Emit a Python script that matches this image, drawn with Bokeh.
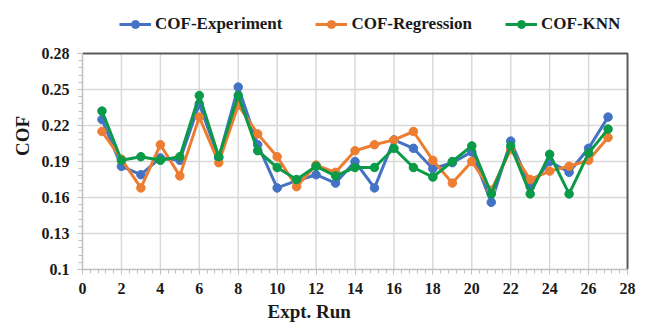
from bokeh.plotting import figure
from bokeh.models import Range1d, FixedTicker, Legend, LegendItem, Title
from bokeh.embed import file_html
from bokeh.resources import INLINE

runs = list(range(1, 28))
cof_experiment = [0.225, 0.186, 0.179, 0.193, 0.191, 0.238, 0.193, 0.252, 0.204, 0.168,
                  0.174, 0.179, 0.172, 0.190, 0.168, 0.208, 0.201, 0.184, 0.189, 0.198,
                  0.156, 0.207, 0.169, 0.190, 0.181, 0.201, 0.227]
cof_regression = [0.215, 0.192, 0.168, 0.204, 0.178, 0.227, 0.189, 0.237, 0.213, 0.194,
                  0.169, 0.187, 0.181, 0.199, 0.204, 0.208, 0.215, 0.191, 0.172, 0.190,
                  0.166, 0.200, 0.175, 0.182, 0.186, 0.191, 0.210]
cof_knn = [0.232, 0.191, 0.194, 0.191, 0.194, 0.245, 0.194, 0.245, 0.199, 0.185,
           0.175, 0.186, 0.178, 0.185, 0.185, 0.201, 0.185, 0.177, 0.190, 0.203,
           0.163, 0.203, 0.163, 0.196, 0.163, 0.197, 0.217]
series_names = ["COF-Experiment", "COF-Regression", "COF-KNN"]
series_colors = ["#4472C4", "#ED7D31", "#0A9A48"]
x_ticks = [0, 2, 4, 6, 8, 10, 12, 14, 16, 18, 20, 22, 24, 26, 28]
y_ticks = [0.1, 0.13, 0.16, 0.19, 0.22, 0.25, 0.28]
y_tick_labels = ["0.1", "0.13", "0.16", "0.19", "0.22", "0.25", "0.28"]
x_title = "Expt. Run"
y_title = "COF"

FONT = "Liberation Serif"
TXT = "#1a1a1a"
AX = "#bfbfbf"
GRID = "#d9d9d9"
BORDER = "#5a5a5a"

x0, x1 = x_ticks[0], x_ticks[-1]
y0, y1 = y_ticks[0], y_ticks[-1]

# frame extends above/right of the data area so the legend is not clipped
p = figure(width=645, height=331, output_backend="svg", toolbar_location=None,
           x_range=Range1d(x0, 28.41), y_range=Range1d(y0, 0.3225),
           min_border_left=82, min_border_right=10, min_border_top=2, min_border_bottom=62)
p.background_fill_color = "white"
p.border_fill_color = "white"
p.outline_line_color = None
p.grid.visible = False

x_minor = [k * 0.4 for k in range(71)]
y_minor = [round(0.1 + k * 0.006, 4) for k in range(31)]
p.xaxis.ticker = FixedTicker(ticks=x_ticks, minor_ticks=x_minor)
p.yaxis.ticker = FixedTicker(ticks=y_ticks, minor_ticks=y_minor)
p.yaxis.major_label_overrides = dict(zip(y_ticks, y_tick_labels))
p.xaxis.bounds = (x0, x1)
p.yaxis.bounds = (y0, y1)

for ax in (p.xaxis[0], p.yaxis[0]):
    ax.axis_line_color = AX
    ax.axis_line_width = 1.5
    ax.major_tick_line_color = AX
    ax.minor_tick_line_color = AX
    ax.major_tick_in = 0
    ax.major_tick_out = 5
    ax.minor_tick_in = 0
    ax.minor_tick_out = 4
    ax.major_label_text_font = FONT
    ax.major_label_text_font_style = "bold"
    ax.major_label_text_font_size = "16px"
    ax.major_label_text_color = TXT
    ax.major_label_standoff = 8

p.yaxis.axis_label = y_title
p.yaxis.axis_label_text_font = FONT
p.yaxis.axis_label_text_font_style = "bold"
p.yaxis.axis_label_text_font_size = "19px"
p.yaxis.axis_label_text_color = TXT
p.yaxis.axis_label_standoff = 6

# grid lines limited to the data area
p.segment(x0=x_ticks[1:-1], y0=[y0] * (len(x_ticks) - 2), x1=x_ticks[1:-1], y1=[y1] * (len(x_ticks) - 2),
          line_color=GRID, line_width=1.5)
p.segment(x0=[x0] * (len(y_ticks) - 2), y0=y_ticks[1:-1], x1=[x1] * (len(y_ticks) - 2), y1=y_ticks[1:-1],
          line_color=GRID, line_width=1.5)
# top and right border
p.line([x0, x1, x1], [y1, y1, y0], line_color=BORDER, line_width=2)

items = []
for name, ys, col in zip(series_names, [cof_experiment, cof_regression, cof_knn], series_colors):
    lr = p.line(runs, ys, line_color=col, line_width=3)
    sr = p.scatter(runs, ys, size=8.5, fill_color=col, line_color=col)
    items.append(LegendItem(label=name, renderers=[lr, sr]))

legend = Legend(items=items, orientation="horizontal", location=(37, 235),
                background_fill_alpha=0, border_line_color=None,
                padding=0, margin=0, spacing=33, label_standoff=4,
                glyph_width=32, glyph_height=20,
                label_text_font=FONT, label_text_font_style="bold",
                label_text_font_size="17px", label_text_color=TXT)
p.add_layout(legend, "center")

p.add_layout(Title(text=x_title, align="left", offset=185, standoff=4,
                   text_font=FONT, text_font_style="bold", text_font_size="19px",
                   text_color=TXT), "below")

open("out.html", "w").write(file_html(p, INLINE))
